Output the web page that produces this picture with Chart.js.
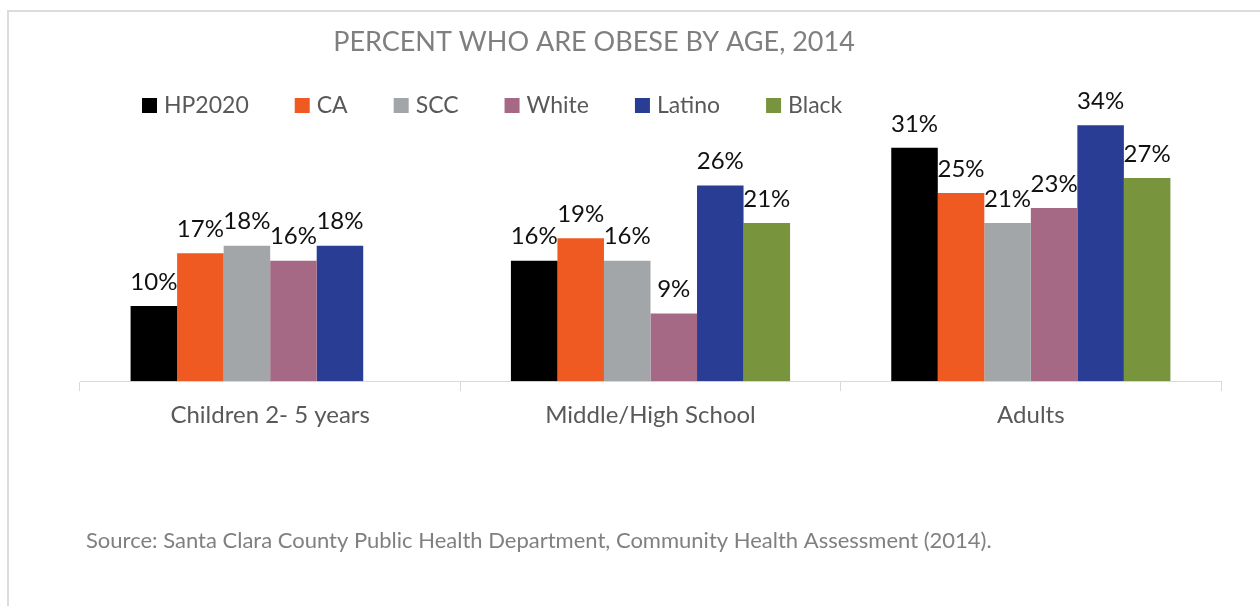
<!DOCTYPE html>
<html>
<head>
<meta charset="utf-8">
<script src="https://cdn.jsdelivr.net/npm/chart.js@4"></script>
<style>
  html, body { margin: 0; padding: 0; background: #fff; }
  #wrap { width: 1260px; height: 606px; }
</style>
</head>
<body>
<div id="wrap"><canvas id="obesityChart" width="1260" height="606"></canvas></div>
<script>
const categories = ['Children 2- 5 years', 'Middle/High School', 'Adults'];
const seriesNames = ['HP2020', 'CA', 'SCC', 'White', 'Latino', 'Black'];
const hp2020 = [10, 16, 31];
const ca = [17, 19, 25];
const scc = [18, 16, 21];
const white = [16, 9, 23];
const latino = [18, 26, 34];
const black = [null, 21, 27];

const seriesValues = [hp2020, ca, scc, white, latino, black];
const seriesColors = ['#000000', '#EF5A22', '#A2A6A9', '#A56985', '#2A3D95', '#78943D'];

const FONT = 'Lato, "Open Sans", sans-serif';

// frame, title, legend and source note are painted around the bars
const decorations = {
    id: 'decorations',
    beforeDraw(chart) {
        const ctx = chart.ctx;
        ctx.save();
        ctx.strokeStyle = '#dcdcdc';
        ctx.lineWidth = 2;
        ctx.beginPath();
        ctx.moveTo(8, 606);
        ctx.lineTo(8, 11);
        ctx.lineTo(1260, 11);
        ctx.stroke();
        ctx.restore();
    },
    afterDraw(chart) {
        const ctx = chart.ctx;
        ctx.save();

        ctx.fillStyle = '#7f7f7f';
        ctx.font = '27px ' + FONT;
        ctx.textAlign = 'center';
        ctx.textBaseline = 'middle';
        ctx.fillText('PERCENT WHO ARE OBESE BY AGE, 2014', 594, 42);

        ctx.font = '23px ' + FONT;
        ctx.textAlign = 'left';
        let x = 142;
        chart.data.datasets.forEach(ds => {
            ctx.fillStyle = ds.backgroundColor;
            ctx.fillRect(x, 98, 15, 15);
            ctx.fillStyle = '#595959';
            ctx.fillText(ds.label, x + 22, 106);
            x += 22 + ctx.measureText(ds.label).width + 46;
        });

        ctx.fillStyle = '#808080';
        ctx.font = '22px ' + FONT;
        ctx.fillText('Source: Santa Clara County Public Health Department, Community Health Assessment (2014).', 86, 541);
        ctx.restore();
    }
};

// percentage above every bar
const barLabels = {
    id: 'barLabels',
    afterDatasetsDraw(chart) {
        const ctx = chart.ctx;
        ctx.save();
        ctx.fillStyle = '#111';
        ctx.font = '24px ' + FONT;
        ctx.textAlign = 'center';
        ctx.textBaseline = 'middle';
        chart.data.datasets.forEach((ds, i) => {
            chart.getDatasetMeta(i).data.forEach((bar, j) => {
                const v = ds.data[j];
                if (v === null) return;
                ctx.fillText(v + '%', bar.x, bar.y - 24);
            });
        });
        ctx.restore();
    }
};

const ctx = document.getElementById('obesityChart').getContext('2d');

new Chart(ctx, {
    type: 'bar',
    data: {
        labels: categories,
        datasets: seriesNames.map((name, i) => ({
            label: name,
            data: seriesValues[i],
            backgroundColor: seriesColors[i],
            barPercentage: 1,
            categoryPercentage: 0.734
        }))
    },
    options: {
        responsive: false,
        animation: false,
        layout: {
            padding: { left: 80, right: 39, top: 80, bottom: 166 }
        },
        plugins: {
            legend: { display: false },
            title: { display: false },
            tooltip: { enabled: false }
        },
        scales: {
            x: {
                grid: {
                    drawOnChartArea: false,
                    drawTicks: true,
                    tickLength: 10,
                    color: '#d9d9d9',
                    offset: true
                },
                border: { color: '#d9d9d9', width: 1 },
                ticks: {
                    color: '#595959',
                    font: { family: 'Lato', size: 24 },
                    padding: 10
                }
            },
            y: {
                display: false,
                min: 0,
                max: 40
            }
        }
    },
    plugins: [decorations, barLabels]
});
</script>
</body>
</html>
